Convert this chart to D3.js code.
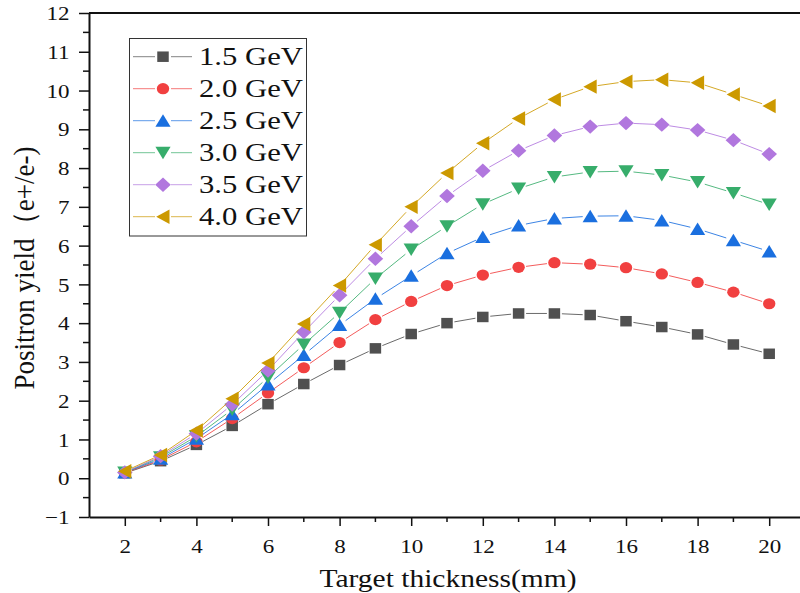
<!DOCTYPE html>
<html>
<head>
<meta charset="utf-8">
<script src="https://cdn.jsdelivr.net/npm/d3@7"></script>
<style>
  html, body { margin: 0; padding: 0; background: #fff; }
  svg text { font-family: "Liberation Serif", "Times New Roman", "DejaVu Serif", serif !important; fill: #111; }
</style>
</head>
<body>
<svg id="chart" width="800" height="593" font-family="Liberation Serif, serif"></svg>
<script>
// ---- data ----
const thickness = [2,3,4,5,6,7,8,9,10,11,12,13,14,15,16,17,18,19,20];
const seriesNames = ["1.5 GeV","2.0 GeV","2.5 GeV","3.0 GeV","3.5 GeV","4.0 GeV"];
const y15 = [0.13,0.44,0.86,1.35,1.91,2.43,2.92,3.35,3.72,4.00,4.16,4.25,4.25,4.21,4.05,3.90,3.71,3.45,3.21];
const y20 = [0.14,0.47,0.94,1.54,2.20,2.85,3.50,4.09,4.56,4.97,5.24,5.44,5.56,5.52,5.43,5.27,5.05,4.80,4.50];
const y25 = [0.15,0.50,1.02,1.65,2.42,3.18,3.95,4.63,5.22,5.80,6.22,6.52,6.70,6.76,6.77,6.65,6.43,6.14,5.85];
const y30 = [0.15,0.54,1.08,1.77,2.60,3.45,4.27,5.15,5.90,6.50,7.07,7.47,7.77,7.90,7.92,7.82,7.64,7.36,7.06];
const y35 = [0.15,0.57,1.15,1.90,2.78,3.77,4.72,5.66,6.50,7.28,7.93,8.45,8.84,9.07,9.16,9.12,8.98,8.72,8.36];
const y40 = [0.18,0.60,1.23,2.05,2.97,3.98,4.97,6.02,7.00,7.87,8.64,9.28,9.77,10.10,10.23,10.28,10.20,9.90,9.60];
const seriesValues = [y15,y20,y25,y30,y35,y40];
const yTicks = [-1,0,1,2,3,4,5,6,7,8,9,10,11,12];
const xTicks = [2,4,6,8,10,12,14,16,18,20];
const xTitle = "Target thickness(mm)";
const yTitle = "Positron yield（e+/e-)";

// ---- styling ----
const FONT = "'Liberation Serif', 'Times New Roman', 'DejaVu Serif', serif";
const colors = ["#505050","#F14040","#1A6FDF","#37AD6B","#B177DE","#CC9900"];
const SX = 1.18; // horizontal stretch of the original image
const markerPaths = [
  "M-5.75,-5.25H5.75V5.25H-5.75Z",
  "M-6.2,0A6.2,5.6 0 1,0 6.2,0A6.2,5.6 0 1,0 -6.2,0Z",
  "M0,-6.5L7.6,6L-7.6,6Z",
  "M0,6.5L7.6,-6L-7.6,-6Z",
  "M0,-7.2L7.8,0L0,7.2L-7.8,0Z",
  "M-6.8,0L6.5,-7.2L6.5,7.2Z"
];

const svg = d3.select("#chart");
const x = d3.scaleLinear().domain([1, 21]).range([89, 805]);
const y = d3.scaleLinear().domain([-1, 12]).range([517, 13]);

// top frame line
svg.append("line").attr("x1", x(1)).attr("x2", 800).attr("y1", y(12)).attr("y2", y(12))
  .attr("stroke", "#111").attr("stroke-width", 2);

// y axis
const yAxis = d3.axisLeft(y).tickValues(yTicks).tickSize(10).tickSizeOuter(0);
const gy = svg.append("g").attr("transform", `translate(${x(1)},0)`).call(yAxis)
  .attr("font-family", FONT);
gy.select(".domain").attr("stroke", "#111").attr("stroke-width", 2);
gy.selectAll(".tick line").attr("stroke", "#111").attr("stroke-width", 1.5);
gy.selectAll(".tick text")
  .attr("x", -19.5 / SX).attr("dy", "0.34em")
  .attr("transform", `scale(${SX},1)`)
  .style("font-size", "19.5px").style("font-family", FONT).attr("fill", "#111");
// y minor ticks
const yMinor = d3.range(-0.5, 12, 1);
svg.append("g").selectAll("line").data(yMinor).join("line")
  .attr("x1", x(1) - 6).attr("x2", x(1)).attr("y1", d => y(d)).attr("y2", d => y(d))
  .attr("stroke", "#111").attr("stroke-width", 1.5);

// x axis
const xAxis = d3.axisBottom(x).tickValues(xTicks).tickSize(9).tickSizeOuter(0);
const gx = svg.append("g").attr("transform", `translate(0,${y(-1)})`).call(xAxis)
  .attr("font-family", FONT);
gx.select(".domain").attr("stroke", "#111").attr("stroke-width", 2);
gx.selectAll(".tick line").attr("stroke", "#111").attr("stroke-width", 1.5);
gx.selectAll(".tick text")
  .attr("y", 35.7).attr("dy", 0)
  .attr("transform", `scale(${SX},1)`)
  .style("font-size", "19.5px").style("font-family", FONT).attr("fill", "#111");
const xMinor = d3.range(3, 21, 2);
svg.append("g").selectAll("line").data(xMinor).join("line")
  .attr("x1", d => x(d)).attr("x2", d => x(d)).attr("y1", y(-1)).attr("y2", y(-1) + 5)
  .attr("stroke", "#111").attr("stroke-width", 1.5);

// axis titles
svg.append("text")
  .attr("transform", `translate(${(318 + 578) / 2},587) scale(${SX},1)`)
  .attr("text-anchor", "middle").style("font-size", "25px").style("font-family", FONT)
  .text(xTitle);
svg.append("text")
  .attr("transform", `translate(33.5,268) rotate(-90) scale(1,${SX})`)
  .attr("text-anchor", "middle").style("font-size", "25.5px").style("font-family", FONT)
  .attr("textLength", 243).attr("lengthAdjust", "spacingAndGlyphs")
  .text(yTitle);

// series
const gap = 7.5;
seriesValues.forEach((vals, si) => {
  const pts = thickness.map((t, i) => [x(t), y(vals[i])]);
  const g = svg.append("g");
  const segs = [];
  for (let i = 0; i < pts.length - 1; i++) {
    const [x1, y1] = pts[i], [x2, y2] = pts[i + 1];
    const len = Math.hypot(x2 - x1, y2 - y1);
    if (len > 2 * gap + 1) {
      const ux = (x2 - x1) / len, uy = (y2 - y1) / len;
      segs.push([x1 + ux * gap, y1 + uy * gap, x2 - ux * gap, y2 - uy * gap]);
    }
  }
  g.selectAll("line").data(segs).join("line")
    .attr("x1", d => d[0]).attr("y1", d => d[1]).attr("x2", d => d[2]).attr("y2", d => d[3])
    .attr("stroke", colors[si]).attr("stroke-width", 1).attr("stroke-opacity", 0.85);
  g.selectAll("path").data(pts).join("path")
    .attr("d", markerPaths[si])
    .attr("transform", d => `translate(${d[0]},${d[1]})`)
    .attr("fill", colors[si]);
});

// legend
const lg = svg.append("g");
lg.append("rect").attr("x", 129.5).attr("y", 38.5).attr("width", 177).attr("height", 197.5)
  .attr("fill", "#fff").attr("stroke", "#333").attr("stroke-width", 1);
seriesNames.forEach((name, i) => {
  const cy = 56.7 + 32 * i;
  lg.append("line").attr("x1", 133).attr("x2", 155).attr("y1", cy).attr("y2", cy)
    .attr("stroke", colors[i]).attr("stroke-width", 1).attr("stroke-opacity", 0.7);
  lg.append("line").attr("x1", 171).attr("x2", 192).attr("y1", cy).attr("y2", cy)
    .attr("stroke", colors[i]).attr("stroke-width", 1).attr("stroke-opacity", 0.7);
  lg.append("path").attr("d", markerPaths[i]).attr("transform", `translate(163,${cy})`)
    .attr("fill", colors[i]);
  lg.append("text").attr("transform", `translate(199,${cy + 8.6}) scale(${SX},1)`)
    .style("font-size", "26px").style("font-family", FONT).text(name);
});
</script>
</body>
</html>
